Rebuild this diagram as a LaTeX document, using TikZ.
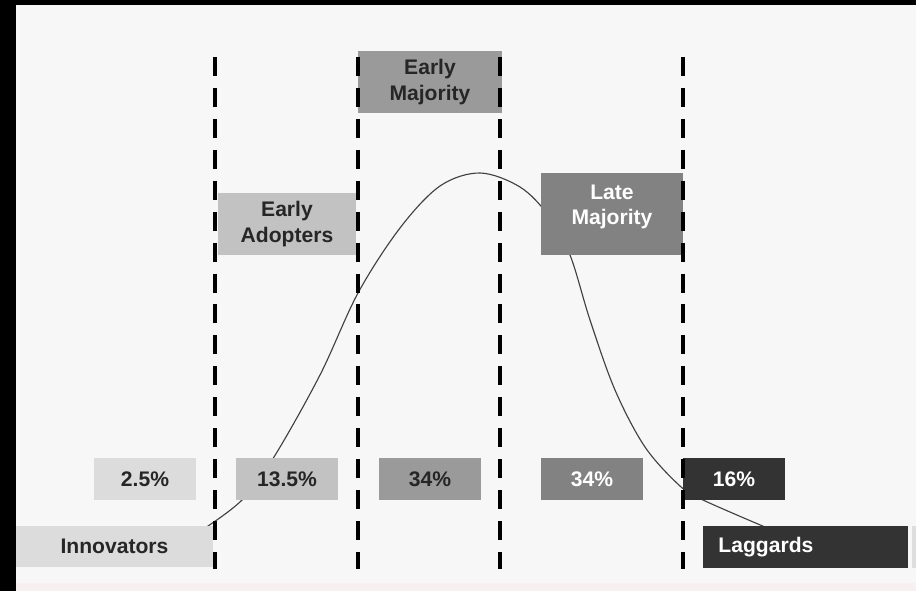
\documentclass[tikz,border=0pt]{standalone}
\usepackage{fontspec}
\setmainfont{Liberation Sans}
\usepackage{tikz}
\definecolor{bggray}{HTML}{F7F7F7}
\definecolor{innocol}{HTML}{DCDCDC}
\definecolor{adoptcol}{HTML}{C2C2C2}
\definecolor{earlycol}{HTML}{9A9A9A}
\definecolor{latecol}{HTML}{828282}
\definecolor{lagcol}{HTML}{333333}

\begin{document}
\begin{tikzpicture}[x=0.025cm, y=-0.025cm,
	box/.style={inner sep=0pt, text=black!85, font=\bfseries\fontsize{15}{18.2}\selectfont, align=center},
	pct/.style={box, minimum width=102*0.025cm, minimum height=42*0.025cm},
	divider/.style={line width=2.3pt, dash pattern=on 13.5pt off 8.5pt}]
				\useasboundingbox (0,0) rectangle (916,591);
				\fill[bggray] (0,0) rectangle (916,591);
				\fill[red!3!bggray] (16,583) rectangle (916,591);
				\fill[black!13] (912,526) rectangle (916,568);
				% adoption curve, under the boxes
				\draw[black!75, line width=0.8pt] plot[smooth, tension=0.55] coordinates
					{(205,528) (242,500) (274,457) (320,375) (358,293) (400,228) (440,186) (480,173)
					 (520,187) (548,215) (570,255) (590,320) (615,390) (645,447) (680,486) (703,500) (765,527)};
				% stage boxes
				\node[box, fill=earlycol, minimum width=144*0.025cm, minimum height=62*0.025cm] (em) at (430,82) {Early\\Majority};
				\node[box, fill=adoptcol, minimum width=138*0.025cm, minimum height=62*0.025cm] (ea) at (287,224) {Early\\Adopters};
				\node[box, fill=latecol, minimum width=142*0.025cm, minimum height=82*0.025cm] (lm) at (612,214) {};
				\node[box, text=white] (lmtext) at (612,207) {Late\\Majority};
				% share row
				\node[pct, fill=innocol] (p1) at (145,479) {2.5\%};
				\node[pct, fill=adoptcol] (p2) at (287,479) {13.5\%};
				\node[pct, fill=earlycol] (p3) at (430,479) {34\%};
				\node[pct, fill=latecol, text=white] (p4) at (592,479) {34\%};
				\node[pct, fill=lagcol, text=white] (p5) at (734,479) {16\%};
				% end groups
				\node[box, fill=innocol, minimum width=197*0.025cm, minimum height=41*0.025cm] (inno) at (114.5,546.5) {Innovators};
				\node[box, fill=lagcol, text=white, minimum width=205*0.025cm, minimum height=42*0.025cm, text width=205*0.025cm-22pt, align=left] (lag) at (805.5,547) {Laggards};
				% stage borders
				\foreach \x in {215,358,500,683}
					\draw[divider] (\x,57) -- (\x,569);
				\fill[black] (0,0) rectangle (916,5);
				\fill[black] (0,0) rectangle (16,591);
			\end{tikzpicture}
\end{document}
